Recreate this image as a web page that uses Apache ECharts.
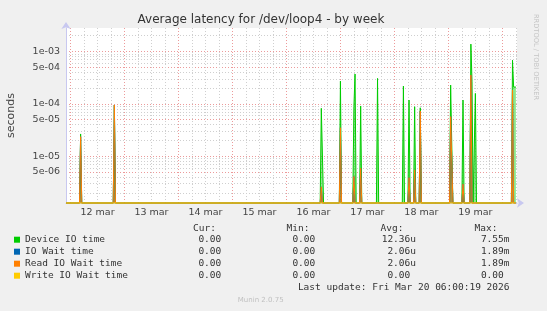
<!DOCTYPE html>
<html><head><meta charset="utf-8">
<script src="https://cdn.jsdelivr.net/npm/echarts@6/dist/echarts.min.js"></script>
<style>html,body{margin:0;padding:0;background:#f0f0f0}#c{width:547px;height:311px}</style>
</head><body><div id="c"></div>
<script>
// ---------- data ----------
const titleText = 'Average latency for /dev/loop4 - by week';
const seriesNames = ['Device IO time', 'IO Wait time', 'Read IO Wait time', 'Write IO Wait time'];
const seriesColors = ['#00cc00', '#0066b3', '#ff8000', '#ffcc00'];

// x range of the week graph (UTC)
const xStart = '2026-03-11 22:00';
const xEnd = '2026-03-20 06:30';
const lastSample = '2026-03-20 06:00';

// day labels (placed at noon) and grid lines every 6 hours
const dayLabels = ['12 mar', '13 mar', '14 mar', '15 mar', '16 mar', '17 mar', '18 mar', '19 mar'];
const dayLabelTimes = ['2026-03-12 12:00', '2026-03-13 12:00', '2026-03-14 12:00', '2026-03-15 12:00',
  '2026-03-16 12:00', '2026-03-17 12:00', '2026-03-18 12:00', '2026-03-19 12:00'];
const xGridTimes = [
  '2026-03-12 00:00', '2026-03-12 06:00', '2026-03-12 12:00', '2026-03-12 18:00',
  '2026-03-13 00:00', '2026-03-13 06:00', '2026-03-13 12:00', '2026-03-13 18:00',
  '2026-03-14 00:00', '2026-03-14 06:00', '2026-03-14 12:00', '2026-03-14 18:00',
  '2026-03-15 00:00', '2026-03-15 06:00', '2026-03-15 12:00', '2026-03-15 18:00',
  '2026-03-16 00:00', '2026-03-16 06:00', '2026-03-16 12:00', '2026-03-16 18:00',
  '2026-03-17 00:00', '2026-03-17 06:00', '2026-03-17 12:00', '2026-03-17 18:00',
  '2026-03-18 00:00', '2026-03-18 06:00', '2026-03-18 12:00', '2026-03-18 18:00',
  '2026-03-19 00:00', '2026-03-19 06:00', '2026-03-19 12:00', '2026-03-19 18:00',
  '2026-03-20 00:00', '2026-03-20 06:00'];

// log y axis
const yMin = 1.28e-6;
const yMax = 2.8e-3;
const yLabelValues = [5e-6, 1e-5, 5e-5, 1e-4, 5e-4, 1e-3];
const yGridValues = [
  2e-6, 3e-6, 4e-6, 5e-6, 6e-6, 7e-6, 8e-6, 9e-6,
  1e-5, 2e-5, 3e-5, 4e-5, 5e-5, 6e-5, 7e-5, 8e-5, 9e-5,
  1e-4, 2e-4, 3e-4, 4e-4, 5e-4, 6e-4, 7e-4, 8e-4, 9e-4,
  1e-3, 2e-3];

// non-zero 30-minute samples (all other samples are 0)
const deviceIO = [
  ['2026-03-12 04:30', 2.66e-5], ['2026-03-12 19:30', 9.5e-5],
  ['2026-03-16 15:30', 8.2e-5], ['2026-03-16 16:00', 8.8e-5],
  ['2026-03-17 00:00', 2.71e-4], ['2026-03-17 06:00', 8.8e-5], ['2026-03-17 06:30', 3.7e-4],
  ['2026-03-17 09:00', 9.1e-5], ['2026-03-17 16:30', 3.06e-4],
  ['2026-03-18 04:00', 2.18e-4], ['2026-03-18 06:30', 1.18e-4], ['2026-03-18 09:00', 8.8e-5],
  ['2026-03-18 11:30', 8.4e-5],
  ['2026-03-19 01:00', 2.28e-4], ['2026-03-19 01:30', 2.28e-4], ['2026-03-19 06:30', 1.18e-4],
  ['2026-03-19 10:00', 1.38e-3], ['2026-03-19 10:30', 2.71e-4], ['2026-03-19 12:00', 1.58e-4],
  ['2026-03-20 04:30', 6.8e-4], ['2026-03-20 05:00', 2.09e-4], ['2026-03-20 05:30', 2.09e-4],
  ['2026-03-20 06:00', 2.09e-4]];
const ioWait = [
  ['2026-03-12 04:30', 2.36e-5], ['2026-03-12 19:30', 9.5e-5],
  ['2026-03-16 15:30', 2.6e-6], ['2026-03-17 00:00', 3.5e-5], ['2026-03-17 06:00', 4.1e-6],
  ['2026-03-17 09:00', 5.9e-6], ['2026-03-18 06:30', 3.9e-6], ['2026-03-18 09:00', 5.5e-6],
  ['2026-03-18 11:30', 7.3e-5], ['2026-03-19 01:00', 5.7e-5], ['2026-03-19 01:30', 5.7e-5],
  ['2026-03-19 06:30', 2.93e-6], ['2026-03-19 10:00', 3.54e-4], ['2026-03-20 04:30', 1.83e-4]];
const readIOWait = [
  ['2026-03-12 04:30', 2.36e-5], ['2026-03-12 19:30', 9.5e-5],
  ['2026-03-16 15:30', 2.6e-6], ['2026-03-17 00:00', 3.5e-5], ['2026-03-17 06:00', 4.1e-6],
  ['2026-03-17 09:00', 5.9e-6], ['2026-03-18 06:30', 3.9e-6], ['2026-03-18 09:00', 5.5e-6],
  ['2026-03-18 11:30', 7.3e-5], ['2026-03-19 01:00', 5.7e-5], ['2026-03-19 01:30', 5.7e-5],
  ['2026-03-19 06:30', 2.93e-6], ['2026-03-19 10:00', 3.54e-4], ['2026-03-20 04:30', 1.83e-4]];
const writeIOWait = [];

// legend table
const statHeaders = ['Cur:', 'Min:', 'Avg:', 'Max:'];
const statCur = ['0.00', '0.00', '0.00', '0.00'];
const statMin = ['0.00', '0.00', '0.00', '0.00'];
const statAvg = ['12.36u', '2.06u', '2.06u', '0.00'];
const statMax = ['7.55m', '1.89m', '1.89m', '0.00'];
const lastUpdate = 'Last update: Fri Mar 20 06:00:19 2026';
const footer = 'Munin 2.0.75';
const sideText = 'RRDTOOL / TOBI OETIKER';

// ---------- helpers ----------
function ts(s) {
  return Date.UTC(+s.slice(0, 4), +s.slice(5, 7) - 1, +s.slice(8, 10), +s.slice(11, 13), +s.slice(14, 16));
}
const HALF_HOUR = 30 * 60 * 1000;
// rrdtool clamps values below the log-axis floor (incl. 0) to the bottom edge
function buildLine(samples) {
  const map = new Map();
  samples.forEach(([t, v]) => map.set(ts(t), v));
  const keys = new Set([ts(xStart), ts(lastSample)]);
  samples.forEach(([t]) => { const k = ts(t); keys.add(k); keys.add(k - HALF_HOUR); keys.add(k + HALF_HOUR); });
  return Array.from(keys).filter(k => k >= ts(xStart) && k <= ts(lastSample)).sort((a, b) => a - b)
    .map(k => [k, Math.max(map.has(k) ? map.get(k) : 0, yMin)]);
}
function fmtExp(v) {
  const e = Math.floor(Math.log10(v) + 1e-9);
  const m = Math.round(v / Math.pow(10, e));
  return m + 'e' + (e < 0 ? '-' : '+') + String(Math.abs(e)).padStart(2, '0');
}
const labelTs = dayLabelTimes.map(ts);
const seriesData = [deviceIO, ioWait, readIOWait, writeIOWait];
const areaOpacity = [0.45, 0.5, 0.55, 0];

const RED = 'rgba(230,120,120,0.75)';
const GRAY = '#cfcfcf';
const MONO = 'DejaVu Sans Mono';
const SANS = 'DejaVu Sans';

// legend table text
const colRight = [227, 321, 416, 509.5];
const headRight = [216, 309.5, 403.5, 497.5];
const rowY = [239.7, 251.7, 263.7, 275.7];
const graphics = [];
function txt(text, x, y, align, font, color, extra) {
  graphics.push(Object.assign({
    type: 'text', x: x, y: y,
    style: { text: text, font: font, fill: color, textAlign: align, textVerticalAlign: 'middle', align: align, verticalAlign: 'middle' }
  }, extra || {}));
}
txt(titleText, 261, 19.5, 'center', '12px ' + SANS, '#333');
txt(sideText, 536, 57, 'center', '6.7px ' + SANS, '#c4c4c4', { rotation: -Math.PI / 2 });
statHeaders.forEach((h, i) => txt(h, headRight[i], 228.3, 'right', '9.5px ' + MONO, '#333'));
const cols = [statCur, statMin, statAvg, statMax];
cols.forEach((col, ci) => col.forEach((s, ri) => {
  const shown = /[a-zA-Z]$/.test(s) ? s : s + ' ';
  txt(shown, colRight[ci], rowY[ri], 'right', '9.5px ' + MONO, '#333');
}));
txt(lastUpdate, 509.5, 287.5, 'right', '9.5px ' + MONO, '#333');
txt(footer, 260.7, 300.5, 'center', '7px ' + SANS, '#c0c0c0');

const chart = echarts.init(document.getElementById('c'), null, { renderer: 'canvas' });
chart.setOption({
  animation: false,
  backgroundColor: '#f0f0f0',
  grid: { left: 66, right: 30, top: 28, bottom: 108, show: true, backgroundColor: '#ffffff', borderWidth: 0, containLabel: false, outerBoundsMode: 'none' },
  legend: {
    orient: 'vertical', left: 14, top: 233.7, padding: 0, itemWidth: 6, itemHeight: 6, itemGap: 0,
    icon: 'rect', selectedMode: false, data: seriesNames,
    textStyle: { fontFamily: MONO, fontSize: 9.5, color: '#333', lineHeight: 12, padding: [0, 0, 0, 0] }
  },
  xAxis: {
    type: 'value', min: ts(xStart), max: ts(xEnd), scale: true,
    axisLine: { show: true, onZero: false, lineStyle: { color: '#c8c8f0', width: 1 }, symbol: ['none', 'arrow'], symbolSize: [7, 7], symbolOffset: [0, 7] },
    axisTick: { show: false, customValues: xGridTimes.map(ts) },
    axisLabel: {
      customValues: labelTs, margin: 5, color: '#444', fontFamily: SANS, fontSize: 9.5,
      formatter: v => dayLabels[labelTs.indexOf(v)] || ''
    },
    splitLine: { show: true, lineStyle: { color: [RED, GRAY, GRAY, GRAY], type: [1, 2], width: 1 } }
  },
  yAxis: {
    type: 'log', logBase: 10, min: yMin, max: yMax,
    name: 'seconds', nameLocation: 'middle', nameRotate: 90, nameGap: 49,
    nameTextStyle: { fontFamily: SANS, fontSize: 11, color: '#444' },
    axisLine: { show: true, onZero: false, lineStyle: { color: '#c8c8f0', width: 1 }, symbol: ['none', 'arrow'], symbolSize: [7, 7], symbolOffset: [0, 6] },
    axisTick: { show: false, customValues: yGridValues },
    axisLabel: { customValues: yLabelValues, formatter: fmtExp, margin: 6, color: '#444', fontFamily: SANS, fontSize: 9.5 },
    splitLine: { show: true, lineStyle: { color: [GRAY, GRAY, GRAY, RED, GRAY, GRAY, GRAY, GRAY, RED], type: [1, 2], width: 1 } }
  },
  series: seriesNames.map((name, i) => ({
    type: 'line', name: name, data: buildLine(seriesData[i]),
    symbol: 'none', showSymbol: false, clip: false,
    lineStyle: { width: 1, color: seriesColors[i] }, itemStyle: { color: seriesColors[i] },
    areaStyle: areaOpacity[i] > 0 ? { origin: 'start', color: seriesColors[i], opacity: areaOpacity[i] } : undefined
  })),
  graphic: graphics
});
</script></body></html>
